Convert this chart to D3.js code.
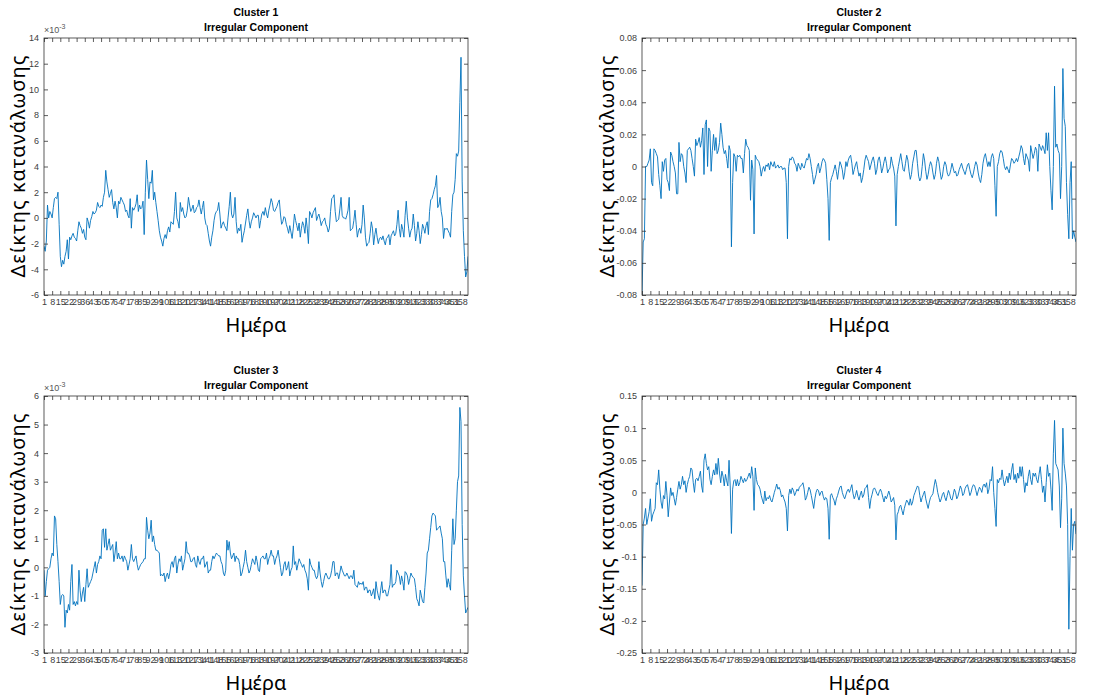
<!DOCTYPE html>
<html>
<head>
<meta charset="utf-8">
<script src="https://cdn.jsdelivr.net/npm/d3@7"></script>
<style>
  body { margin: 0; background: #fff; }
  svg { display: block; font-family: "Liberation Sans", Arial, sans-serif; }
  .tick text { fill: #404040; font-size: 9px; }
  .tick line { stroke: #333; stroke-width: 0.8; }
  .frame { fill: none; stroke: #333; stroke-width: 0.8; }
  .title { font-weight: bold; font-size: 10.5px; fill: #000; text-anchor: middle; }
  .axis-label { font-family: "Noto Sans", "DejaVu Sans", sans-serif; font-size: 20px; fill: #000; text-anchor: middle; }
  .series { fill: none; stroke: #0072BD; stroke-width: 0.9; stroke-linejoin: round; }
</style>
</head>
<body>
<svg id="fig" width="1109" height="698"></svg>
<script>
// day index 1..365 and the MATLAB tick positions (every 7th day, last one 358)
const days = d3.range(1, 366);
const xTickValues = d3.range(1, 365, 7);

// Cluster 1, values in units of 1e-3
const cluster1 = [
  -2.2, -2.6, -1.8, 1.0, 0.0, 0.5, 0.3, 0.0, 0.8, 1.5,
  1.6, 1.5, 2.0, -0.5, -3.0, -3.8, -3.3, -3.6, -3.0, -2.6,
  -1.7, -3.2, -1.5, -1.7, -1.4, -1.2, -1.5, -1.6, -1.8, -1.0,
  -0.3, -0.6, -0.8, -1.2, -0.9, -1.5, -1.7, 0.0, -0.3, -0.8,
  -0.2, 0.1, 0.5, 0.3, 0.4, 0.6, 1.2, 0.9, 0.8, 1.0,
  0.9, 1.6, 2.0, 3.7, 2.8, 2.2, 1.6, 1.9, 2.2, 1.2,
  0.7, 1.3, 0.8, 0.0, 1.3, 1.1, 1.6, 1.4, 1.2, 1.0,
  0.5, 0.6, 0.2, 0.0, 1.5, -0.8, 0.8, 0.6, 0.8, 1.1,
  1.8, 0.5, 1.0, 0.7, 0.8, 1.3, -1.3, 2.0, 4.5, 3.0,
  1.5, 2.8, 2.7, 3.7, 1.4, 2.0, 1.2, 0.5, -0.2, -1.0,
  -1.5, -1.8, -2.2, -1.6, -1.3, -1.6, -1.0, -0.7, -1.1, -0.3,
  -0.4, -0.5, 0.5, 2.0, 0.0, -0.3, -0.8, 1.2, 0.5, 0.8,
  0.3, 0.0, 0.1, 0.6, 1.6, 1.0, 0.5, 0.7, 1.0, 0.4,
  0.5, 0.8, 0.9, 1.4, 0.8, 0.3, 0.8, 1.3, 0.0, -0.5,
  -0.6, -1.2, -1.8, -2.2, -1.5, -1.0, -0.2, 0.3, 0.5, 0.6,
  1.2, 0.3, -0.8, -0.5, -0.3, -0.6, -0.8, -1.0, 0.0, 0.9,
  2.0, 0.3, 0.0, 0.3, 1.6, -0.3, -1.2, -0.8, -1.0, -0.5,
  -1.9, -1.4, -1.0, -0.4, 0.2, 0.7, -0.2, -0.8, -0.3, 0.0,
  0.4, 0.2, 0.0, 0.2, 0.2, -0.8, -0.2, 0.3, 0.5, 0.2,
  0.8, 0.3, 0.0, 0.6, 1.0, 1.5, 1.2, 0.6, 0.5, 0.7,
  0.9, 1.2, 1.4, 0.3, -0.5, -0.3, 0.1, 0.0, -0.5, -0.8,
  -1.2, -0.6, -1.1, -1.6, -0.8, 0.3, -0.2, -0.6, -1.0, -0.4,
  -1.5, -0.8, -0.3, -0.6, -1.2, 0.0, -0.8, -2.0, 0.5, 0.3,
  0.0, 0.4, 0.6, 0.8, -0.2, 0.1, 0.3, -0.1, -0.6, -0.3,
  -0.2, 0.0, -0.5, -0.7, -1.1, -0.8, 0.5, 1.5, 1.6, 1.8,
  0.5, -0.3, -0.2, -0.1, 0.7, 1.6, 0.2, 0.0, 0.0, -0.1,
  0.2, 0.6, 1.6, -1.0, -0.9, -0.8, -0.2, 0.6, -0.5, -1.5,
  -1.0, -0.8, -1.2, -0.5, 1.0, 0.0, -1.5, -2.2, -2.0, -1.9,
  -1.2, -0.3, -0.8, -2.1, -1.3, -0.8, -1.5, -2.0, -1.6, -1.5,
  -1.7, -1.4, -1.8, -2.1, -1.6, -1.5, -1.3, -2.1, -1.4, -1.2,
  -1.0, -1.4, -1.2, -0.5, 0.6, -0.8, -1.5, -0.5, -0.9, -1.5,
  0.2, 1.3, 0.0, -0.8, -1.5, -1.0, -0.8, 0.3, -0.6, -1.8,
  -1.2, -0.3, -1.0, -2.0, -1.3, -0.5, -0.8, -1.2, -0.6, -0.3,
  -1.3, 0.5, 1.4, 1.5, 1.8, 2.2, 2.5, 3.3, 0.8, 1.0,
  1.6, 0.5, 0.0, -1.6, -0.8, -0.9, -0.8, -1.0, -1.2, -1.5,
  0.5, 1.8, 2.0, 3.0, 5.0, 4.8, 5.2, 9.0, 12.5, 2.8,
  -1.0, -3.0, -4.6, -4.2, -3.0
];

const cluster2 = [
  -0.080, -0.047, -0.045, 0.000, 0.000, 0.002, 0.004, 0.011, -0.010, -0.012,
  0.011, 0.010, 0.008, 0.006, -0.005, -0.012, -0.020, 0.003, -0.003, 0.004,
  0.005, -0.008, -0.010, -0.015, 0.009, 0.007, 0.003, 0.000, -0.004, -0.017,
  -0.017, 0.015, 0.003, 0.008, 0.007, 0.000, -0.004, -0.010, 0.010, 0.011,
  0.012, 0.010, 0.005, 0.000, -0.006, 0.017, 0.013, 0.015, 0.018, 0.012,
  0.016, 0.024, -0.005, 0.026, 0.029, 0.000, 0.024, 0.022, -0.003, 0.010,
  0.020, 0.010, 0.018, 0.008, 0.010, 0.015, 0.027, 0.020, 0.012, 0.008,
  0.010, 0.005, -0.001, 0.013, 0.010, -0.050, -0.010, 0.008, 0.006, -0.003,
  0.007, 0.006, 0.007, 0.005, 0.005, -0.004, 0.008, 0.017, 0.013, 0.012,
  0.010, -0.021, 0.004, -0.002, -0.042, 0.007, 0.005, 0.004, 0.003, 0.000,
  -0.006, -0.002, 0.000, -0.003, 0.001, 0.000, 0.002, -0.002, 0.003, 0.001,
  0.000, 0.003, -0.001, 0.000, 0.001, -0.001, 0.000, 0.000, -0.002, -0.001,
  -0.001, -0.010, -0.045, 0.000, 0.005, 0.004, 0.006, 0.005, 0.002, 0.001,
  -0.003, 0.002, 0.000, -0.002, 0.002, 0.000, -0.001, 0.002, 0.005, 0.004,
  0.008, 0.005, 0.000, -0.005, -0.011, -0.008, -0.005, 0.000, 0.002, -0.004,
  -0.001, 0.003, 0.005, 0.004, 0.002, -0.008, -0.020, -0.046, -0.010, -0.007,
  -0.005, -0.002, 0.001, -0.003, -0.008, -0.002, 0.003, 0.001, -0.002, -0.008,
  -0.004, 0.003, 0.000, 0.004, 0.006, 0.007, 0.002, -0.005, -0.002, 0.001,
  0.003, -0.002, -0.006, -0.004, -0.010, -0.007, -0.002, 0.004, 0.007, 0.005,
  0.003, -0.002, 0.001, 0.004, 0.006, 0.002, -0.005, -0.002, 0.004, 0.006,
  0.002, -0.004, -0.001, 0.003, 0.006, 0.002, -0.004, -0.002, -0.001, 0.006,
  0.002, -0.001, -0.006, -0.037, -0.005, 0.000, 0.004, 0.008, 0.003, -0.002,
  -0.003, 0.002, 0.007, 0.004, -0.003, -0.008, -0.005, 0.002, 0.006, 0.010,
  0.010, 0.002, -0.006, -0.009, -0.007, 0.000, 0.008, 0.004, -0.003, -0.008,
  -0.005, 0.000, 0.003, 0.001, -0.004, -0.008, -0.005, 0.002, 0.006, 0.003,
  -0.003, -0.008, -0.006, 0.000, 0.003, 0.001, -0.004, -0.006, -0.005, -0.002,
  0.002, -0.001, -0.004, -0.003, -0.006, -0.005, -0.002, 0.000, 0.002, -0.001,
  -0.003, -0.005, -0.002, 0.001, 0.002, -0.002, -0.005, -0.007, -0.004, 0.000,
  0.003, 0.001, -0.004, -0.008, -0.010, -0.005, 0.002, 0.006, 0.008, 0.004,
  0.000, 0.003, 0.000, 0.006, 0.008, 0.005, -0.012, -0.031, 0.000, 0.003,
  0.008, 0.010, 0.009, 0.005, 0.000, -0.002, 0.000, -0.002, -0.004, 0.001,
  0.005, 0.004, 0.002, 0.003, 0.005, 0.003, 0.006, 0.009, 0.013, 0.011,
  0.005, 0.001, 0.008, 0.006, 0.004, -0.003, 0.013, 0.009, 0.005, 0.008,
  0.012, 0.010, -0.003, 0.014, 0.012, 0.010, 0.013, 0.011, 0.008, 0.021,
  0.010, 0.021, 0.000, -0.015, -0.027, 0.000, 0.050, 0.012, 0.014, 0.010,
  0.008, -0.020, 0.000, 0.061, 0.030, 0.025, -0.010, -0.030, -0.045, -0.010,
  0.003, -0.045, -0.040, -0.044, -0.047
];

// Cluster 3, values in units of 1e-3
const cluster3 = [
  -0.1, -1.0, -0.5, -0.1, -0.05, 0.0, 0.3, 0.5, 0.4, 1.8,
  1.7, 0.8, 0.2, -0.5, -1.3, -1.0, -0.95, -1.0, -2.1, -1.5,
  -1.6, -1.3, -1.5, -0.5, 0.1, -1.3, -1.2, -1.35, -1.2, -1.3,
  -0.1, -0.8, -1.2, -0.9, -0.7, -1.2, -0.6, -0.05, -0.7, -0.6,
  -0.5, -0.4, -0.2, 0.0, 0.2, -0.2, 0.1, 0.2, 0.4, 0.3,
  1.3, 1.35, 0.7, 1.35, 0.6, 0.8, 1.0, 0.6, 0.7, 0.8,
  0.2, 0.5, 0.9, 0.3, 0.5, 0.3, 0.3, 0.4, 0.2, 0.4,
  0.3, 0.2, -0.1, 0.1, 0.3, 0.8, 0.3, 0.2, 0.3, 0.4,
  0.1, -0.1, 0.0, 0.1, 0.15, 0.2, 0.3, 0.3, 1.75, 1.3,
  1.0, 1.2, 1.65, 0.9, 1.1, 0.8, 0.6, 0.6, 0.55, 0.5,
  -0.3, -0.25, -0.3, -0.2, -0.5, -0.3, -0.2, -0.4, -0.2, 0.1,
  0.2, 0.0, 0.3, 0.4, -0.2, 0.1, 0.3, 0.2, 0.4, -0.1,
  0.1, 0.3, 0.9, 0.5, 0.5, 0.4, 0.2, 0.2, 0.3, 0.35,
  0.1, 0.0, 0.4, 0.2, 0.1, 0.3, 0.3, 0.4, 0.0, 0.1,
  0.2, -0.2, -0.1, -0.1, 0.2, 0.4, 0.3, 0.4, 0.5, 0.45,
  0.4, 0.4, 0.2, 0.1, -0.2, -0.3, -0.1, 0.95, 0.6, 0.9,
  0.5, 0.3, 0.4, 0.5, 0.2, 0.4, 0.3, 0.3, 0.1, -0.3,
  -0.2, 0.0, 0.2, 0.6, 0.2, 0.0, -0.2, -0.1, 0.1, 0.3,
  0.2, 0.1, 0.4, 0.2, -0.1, -0.15, 0.3, 0.35, 0.4, 0.3,
  0.3, 0.5, 0.1, 0.3, 0.4, 0.6, 0.4, 0.4, 0.1, 0.3,
  0.4, 0.6, 0.3, 0.0, -0.3, -0.2, 0.1, 0.2, -0.1, 0.0,
  0.2, -0.3, -0.1, 0.0, 0.75, 0.1, 0.2, -0.1, 0.1, 0.3,
  0.2, 0.1, 0.0, 0.1, -0.1, -0.2, -0.4, -0.8, 0.3, 0.1,
  0.0, -0.1, -0.1, -0.3, -0.4, -0.3, 0.2, -0.2, -0.5, -0.7,
  -0.5, -0.3, -0.2, -0.3, -0.4, -0.4, -0.3, -0.1, 0.2, 0.2,
  -0.3, -0.2, -0.2, -0.4, -0.2, 0.05, -0.1, -0.2, -0.3, -0.3,
  -0.2, -0.3, -0.4, -0.3, -0.3, -0.4, -0.1, -0.6, -0.65, -0.7,
  -0.5, -0.6, -0.55, -0.6, -0.5, -0.8, -0.7, -0.7, -0.9, -0.8,
  -0.8, -1.0, -0.9, -0.75, -1.1, -0.5, -0.8, -1.0, -1.15, -0.8,
  -0.5, -0.9, -0.8, -0.8, -1.0, -1.0, -0.8, -0.6, 0.1, -0.7,
  -0.6, -0.6, -0.5, -0.1, -0.2, -0.3, -0.6, -0.3, -0.5, -0.8,
  -0.15, -0.2, -0.3, -0.6, -0.4, -0.2, -0.3, -0.35, -0.4, -0.7,
  -1.1, -1.2, -1.35, -0.8, -1.0, -1.2, -1.25, -0.7, -0.2, 0.5,
  0.6, 1.0, 1.4, 1.8, 1.9, 1.85, 1.8, 1.3, 1.35, 1.4,
  1.45, 1.2, 1.0, 0.2, 0.2, -0.3, -0.7, -0.4, -0.6, -0.8,
  0.6, 1.7, 0.8, 1.0, 2.0, 3.0, 3.2, 5.6, 5.1, 1.5,
  -0.3, -1.0, -1.6, -1.5, -1.4
];

const cluster4 = [
  -0.145, -0.050, -0.040, -0.025, -0.050, -0.040, -0.030, -0.010, -0.045, -0.035,
  -0.030, -0.025, 0.015, 0.012, 0.035, 0.005, -0.015, -0.025, -0.005, -0.010,
  0.017, -0.005, -0.038, -0.015, 0.007, -0.005, 0.000, -0.010, -0.020, -0.008,
  0.005, 0.017, 0.005, 0.012, 0.025, 0.012, 0.018, 0.000, 0.012, 0.020,
  0.025, 0.038, 0.035, 0.015, 0.000, 0.020, 0.022, 0.018, 0.025, 0.033,
  0.010, 0.000, 0.050, 0.060, 0.045, 0.035, 0.040, 0.020, 0.012, 0.025,
  0.035, 0.027, 0.045, 0.028, 0.053, 0.030, 0.015, 0.033, 0.025, 0.010,
  0.028, 0.018, 0.010, 0.050, 0.010, -0.064, 0.005, 0.018, 0.020, 0.010,
  0.020, 0.010, 0.015, 0.025, 0.020, 0.015, 0.022, 0.017, 0.020, 0.025,
  0.030, 0.022, 0.040, 0.025, -0.028, 0.038, 0.020, 0.012, 0.010, 0.005,
  -0.005, -0.012, -0.018, 0.002, -0.013, -0.008, -0.010, -0.005, -0.012, -0.015,
  -0.008, 0.000, 0.006, 0.013, 0.005, 0.008, 0.003, -0.007, -0.004, -0.010,
  -0.015, -0.025, -0.060, -0.005, 0.005, -0.002, 0.007, 0.003, -0.005, 0.000,
  0.005, 0.002, 0.008, 0.010, 0.012, 0.015, 0.005, -0.012, -0.008, 0.000,
  0.008, 0.004, -0.005, -0.015, -0.025, -0.010, 0.000, 0.005, 0.003, -0.005,
  0.000, 0.002, -0.006, -0.012, -0.008, -0.010, -0.025, -0.073, -0.005, -0.002,
  -0.008, -0.012, -0.020, -0.010, -0.005, 0.002, 0.008, 0.010, 0.000, -0.006,
  -0.010, -0.004, 0.002, 0.005, 0.000, 0.006, 0.012, -0.002, -0.010, -0.005,
  0.003, -0.006, -0.012, -0.004, 0.002, -0.008, -0.004, 0.006, 0.008, 0.012,
  -0.008, -0.025, -0.010, -0.003, 0.005, 0.007, 0.003, -0.002, -0.005, 0.001,
  0.005, 0.000, -0.008, -0.015, -0.006, -0.010, -0.004, 0.002, -0.005, -0.015,
  -0.012, -0.008, -0.020, -0.074, -0.035, -0.030, -0.022, -0.020, -0.028, -0.035,
  -0.025, -0.018, -0.012, -0.015, -0.020, -0.010, -0.020, -0.015, -0.005, 0.000,
  0.005, 0.010, 0.008, -0.005, -0.015, -0.008, -0.003, 0.002, -0.010, -0.018,
  -0.025, -0.015, -0.008, -0.005, -0.002, 0.010, 0.020, 0.012, 0.000, -0.008,
  -0.015, -0.010, -0.003, 0.000, -0.008, -0.013, -0.005, 0.003, -0.002, -0.010,
  -0.012, -0.004, 0.005, 0.000, -0.010, -0.006, 0.002, 0.010, 0.005, -0.005,
  -0.002, 0.006, 0.010, 0.012, 0.004, -0.005, 0.000, 0.008, 0.012, 0.010,
  0.003, -0.005, 0.002, 0.008, 0.005, 0.000, 0.010, 0.013, 0.008, 0.015,
  -0.002, 0.005, 0.020, 0.018, 0.040, 0.000, -0.025, -0.053, 0.020, 0.015,
  0.022, 0.020, 0.035, 0.020, 0.010, 0.018, 0.025, 0.015, 0.030, 0.020,
  0.035, 0.045, 0.020, 0.028, 0.015, 0.030, 0.022, 0.040, 0.025, 0.040,
  0.020, 0.000, 0.015, 0.010, 0.025, 0.035, 0.020, 0.012, 0.030, 0.025,
  0.030, 0.020, 0.015, 0.028, 0.040, 0.020, 0.000, 0.010, -0.015, 0.015,
  0.043, 0.025, 0.030, 0.005, -0.028, 0.060, 0.112, 0.045, 0.040, 0.035,
  0.010, -0.055, -0.010, 0.100, 0.045, 0.030, 0.010, -0.050, -0.213, -0.100,
  -0.025, -0.090, -0.050, -0.045, -0.065
];

const yTicks1 = [-6, -4, -2, 0, 2, 4, 6, 8, 10, 12, 14];
const yTicks2 = [-0.08, -0.06, -0.04, -0.02, 0, 0.02, 0.04, 0.06, 0.08];
const yTicks3 = [-3, -2, -1, 0, 1, 2, 3, 4, 5, 6];
const yTicks4 = [-0.25, -0.2, -0.15, -0.1, -0.05, 0, 0.05, 0.1, 0.15];

const titles = ["Cluster 1", "Cluster 2", "Cluster 3", "Cluster 4"];
const subtitle = "Irregular Component";
const yLabel = "Δείκτης κατανάλωσης";
const xLabel = "Ημέρα";

// layout of the four axes (pixel boxes), kept apart from the data
const panels = [
  { title: titles[0], values: cluster1, ticks: yTicks1, scaled: true,  box: { l: 44,  r: 468,  t: 38,  b: 295 }, labelX: 18 },
  { title: titles[1], values: cluster2, ticks: yTicks2, scaled: false, box: { l: 642, r: 1076, t: 38,  b: 295 }, labelX: 607 },
  { title: titles[2], values: cluster3, ticks: yTicks3, scaled: true,  box: { l: 44,  r: 468,  t: 396, b: 653 }, labelX: 18 },
  { title: titles[3], values: cluster4, ticks: yTicks4, scaled: false, box: { l: 642, r: 1076, t: 396, b: 653 }, labelX: 607 }
];

const svg = d3.select("#fig");
const fmt = v => String(+v.toFixed(2));

panels.forEach((p, i) => {
  const { l, r, t, b } = p.box;
  const x = d3.scaleLinear().domain([1, 365]).range([l, r]);
  const y = d3.scaleLinear().domain(d3.extent(p.ticks)).range([b, t]);
  const g = svg.append("g");

  svg.append("clipPath").attr("id", `clip${i}`)
    .append("rect").attr("x", l).attr("y", t).attr("width", r - l).attr("height", b - t);

  const line = d3.line().x((d, j) => x(days[j])).y(d => y(d));
  g.append("path").datum(p.values)
    .attr("class", "series")
    .attr("clip-path", `url(#clip${i})`)
    .attr("d", line);

  // axes, ticks pointing inward like MATLAB
  g.append("g").attr("transform", `translate(0,${b})`)
    .call(d3.axisBottom(x).tickValues(xTickValues).tickSize(-4).tickPadding(4).tickFormat(d3.format("d")))
    .call(a => a.select(".domain").remove());
  g.append("g").attr("transform", `translate(0,${t})`)
    .call(d3.axisTop(x).tickValues(xTickValues).tickSize(-4).tickFormat(""))
    .call(a => a.select(".domain").remove());
  g.append("g").attr("transform", `translate(${l},0)`)
    .call(d3.axisLeft(y).tickValues(p.ticks).tickSize(-4).tickPadding(5).tickFormat(fmt))
    .call(a => a.select(".domain").remove());
  g.append("g").attr("transform", `translate(${r},0)`)
    .call(d3.axisRight(y).tickValues(p.ticks).tickSize(-4).tickFormat(""))
    .call(a => a.select(".domain").remove());

  g.append("rect").attr("class", "frame")
    .attr("x", l).attr("y", t).attr("width", r - l).attr("height", b - t);

  // exponent note for the 1e-3 panels
  if (p.scaled) {
    const ex = g.append("text").attr("x", l).attr("y", t - 5)
      .attr("fill", "#555").attr("font-size", 9);
    ex.append("tspan").text("×10");
    ex.append("tspan").attr("font-size", 7).attr("dy", -4).text("-3");
  }

  const cx = (l + r) / 2;
  g.append("text").attr("class", "title").attr("x", cx).attr("y", t - 22).text(p.title);
  g.append("text").attr("class", "title").attr("x", cx).attr("y", t - 7).text(subtitle);

  g.append("text").attr("class", "axis-label")
    .attr("x", cx).attr("y", b + 37).text(xLabel);
  g.append("text").attr("class", "axis-label")
    .attr("transform", `translate(${p.labelX + 7},${(t + b) / 2}) rotate(-90)`)
    .attr("textLength", 222).attr("lengthAdjust", "spacing")
    .text(yLabel);
});
</script>
</body>
</html>
